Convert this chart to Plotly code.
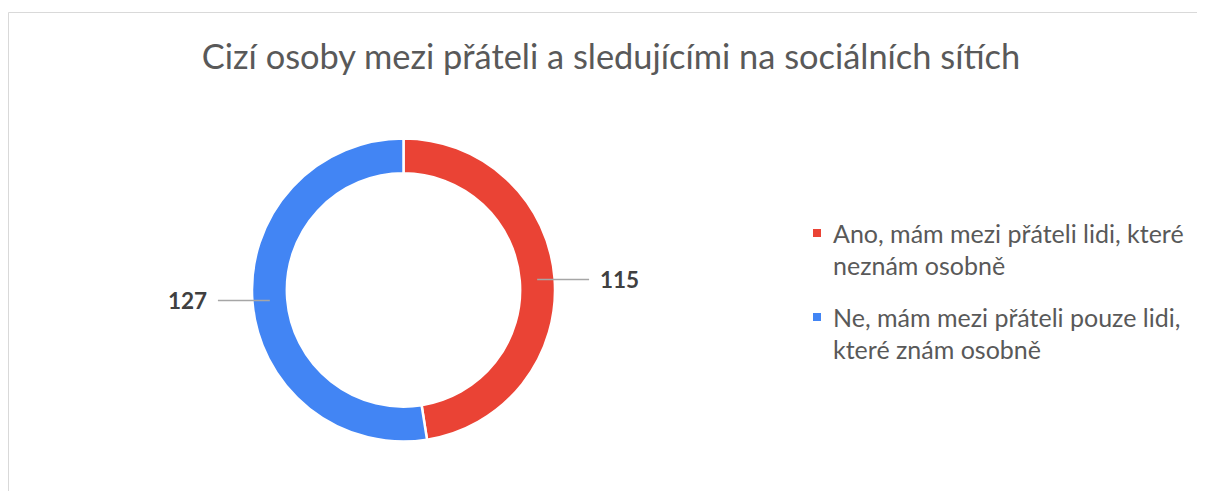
import math
import plotly.graph_objects as go

# ---- data ----
categories = ["Ano, mám mezi přáteli lidi, které<br>neznám osobně",
              "Ne, mám mezi přáteli pouze lidi,<br>které znám osobně"]
values = [115, 127]
colors = ["#EA4335", "#4285F4"]
title_text = "Cizí osoby mezi přáteli a sledujícími na sociálních sítích"

# ---- layout constants ----
OFF = 8  # page body margin in the browser
W, H = 1205 - OFF, 491 - OFF
FONT = "Lato"
HOLE = 0.77


def px(x):
    return (x - OFF) / W


def py(y):
    return 1 - (y - OFF) / H


dom_x = [px(252), px(555)]
dom_y = [py(441.5), py(138.5)]

fig = go.Figure(go.Pie(
    labels=[c.replace("<br>", " ") for c in categories],
    values=values,
    hole=HOLE,
    sort=False,
    direction="clockwise",
    rotation=0,
    marker=dict(colors=colors, line=dict(color="white", width=2.5)),
    textinfo="none",
    hoverinfo="label+value",
    showlegend=False,
    domain=dict(x=dom_x, y=dom_y),
))

# pie geometry in page pixels (derived from the domain)
cx = (dom_x[0] + dom_x[1]) / 2 * W + OFF
cy = (1 - (dom_y[0] + dom_y[1]) / 2) * H + OFF
R = min((dom_x[1] - dom_x[0]) * W, (dom_y[1] - dom_y[0]) * H) / 2
r_mid = R * (1 + HOLE) / 2
total = sum(values)

shapes = []
annotations = []
cum = 0
for v in values:
    a = math.radians((cum + v / 2) / total * 360)
    cum += v
    sx = math.sin(a)
    x0 = cx + r_mid * sx
    y0 = cy - r_mid * math.cos(a)
    side = 1 if sx >= 0 else -1
    x1 = cx + side * R * 1.225
    shapes.append(dict(type="line", xref="paper", yref="paper",
                       x0=px(x0), x1=px(x1), y0=py(y0), y1=py(y0),
                       line=dict(color="#A6A6A6", width=1.5)))
    annotations.append(dict(
        xref="paper", yref="paper", x=px(x1 + side * 9), y=py(y0),
        xanchor="left" if side > 0 else "right", yanchor="middle",
        text=f"<b>{v}</b>", showarrow=False,
        font=dict(family=FONT, size=22.5, color="#404040")))

# manual legend
leg_x, leg_y0, line_h, item_gap = 813, 233, 32, 84
for i, (cat, col) in enumerate(zip(categories, colors)):
    yc = leg_y0 + i * item_gap
    shapes.append(dict(type="rect", xref="paper", yref="paper",
                       x0=px(leg_x), x1=px(leg_x + 8),
                       y0=py(yc + 4), y1=py(yc - 4),
                       fillcolor=col, line=dict(width=0)))
    for j, line in enumerate(cat.split("<br>")):
        annotations.append(dict(
            xref="paper", yref="paper", x=px(leg_x + 18), y=py(yc + j * line_h),
            xanchor="left", yanchor="middle", text=line, showarrow=False,
            font=dict(family=FONT, size=25, color="#595959")))

# chart-area border (partially cropped in the reference)
shapes.append(dict(type="rect", xref="paper", yref="paper",
                   x0=px(8.5), x1=1.05, y0=-0.05, y1=py(12.5),
                   line=dict(color="#D9D9D9", width=1), fillcolor="rgba(0,0,0,0)"))

fig.update_layout(
    width=W, height=H,
    margin=dict(l=0, r=0, t=0, b=0),
    paper_bgcolor="white", plot_bgcolor="white",
    title=dict(text=title_text, x=px(611), xanchor="center",
               y=py(57), yanchor="middle",
               font=dict(family=FONT, size=34.4, color="#595959")),
    shapes=shapes,
    annotations=annotations,
)

fig.write_html("out.html")
